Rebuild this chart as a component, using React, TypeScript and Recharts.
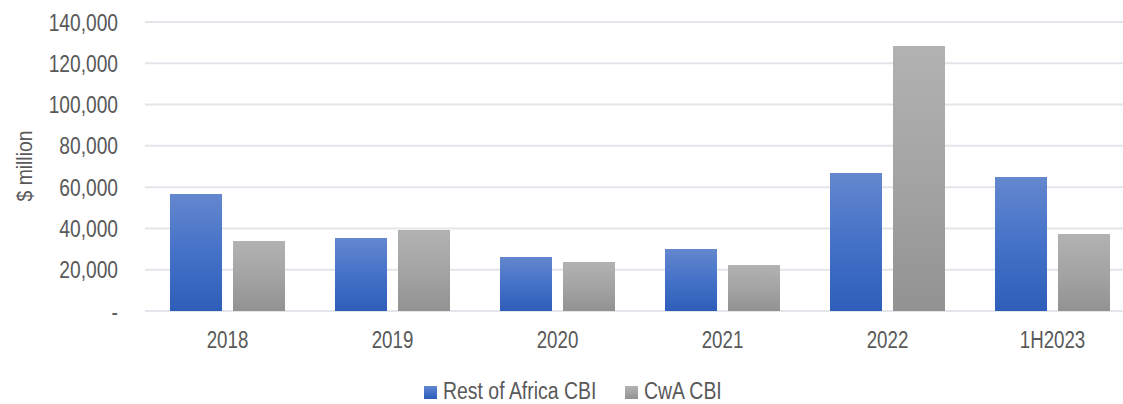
import React from 'react'
import { BarChart, Bar, XAxis, YAxis, CartesianGrid, Legend } from 'recharts'

const categories = ['2018', '2019', '2020', '2021', '2022', '1H2023']
const restOfAfrica = [56700, 35400, 26200, 30000, 66900, 64900]
const cwa = [33900, 39200, 23700, 22300, 128400, 37300]
const yTicks = [0, 20000, 40000, 60000, 80000, 100000, 120000, 140000]
const seriesNames = ['Rest of Africa CBI', 'CwA CBI']

const data = categories.map((name, i) => ({
  name,
  rest: restOfAfrica[i],
  cwa: cwa[i],
}))

const FONT = "'Liberation Sans', Arial, sans-serif"
const TEXT = '#595959'

const fmt = (v: number) => (v === 0 ? '-' : v.toLocaleString('en-US'))

// the source uses a narrow font, so squeeze the glyphs horizontally
function YTick(props: any) {
  const { x, y, payload } = props
  return (
    <g transform={`translate(${x},${y}) scale(0.8,1)`}>
      <text x={0} y={0} dy="0.355em" textAnchor="end" fill={TEXT} fontSize={24} fontFamily={FONT}>
        {fmt(payload.value)}
      </text>
    </g>
  )
}

function XTick(props: any) {
  const { x, y, payload } = props
  return (
    <g transform={`translate(${x},${y}) scale(0.78,1)`}>
      <text x={0} y={0} dy="0.71em" textAnchor="middle" fill={TEXT} fontSize={24} fontFamily={FONT}>
        {payload.value}
      </text>
    </g>
  )
}

function LegendBox() {
  const items = [
    { label: seriesNames[0], fill: 'url(#gradBlue)', x: 424 },
    { label: seriesNames[1], fill: 'url(#gradGrey)', x: 625 },
  ]
  return (
    <svg width={1123} height={30} style={{ display: 'block' }}>
      {items.map((it) => (
        <g key={it.label}>
          <rect x={it.x} y={12} width={13} height={13} fill={it.fill} />
          <g transform={`translate(${it.x + 19},25) scale(0.81,1)`}>
            <text x={0} y={0} fill={TEXT} fontSize={24} fontFamily={FONT}>
              {it.label}
            </text>
          </g>
        </g>
      ))}
    </svg>
  )
}

export default function App() {
  return (
    <div
      style={{
        position: 'fixed',
        left: 0,
        top: 0,
        width: 1123,
        height: 404,
        overflow: 'hidden',
        background: '#fff',
      }}
    >
      <BarChart
        width={1135}
        height={404}
        data={data}
        margin={{ top: 22, right: 0, bottom: 0, left: 0 }}
        barCategoryGap={25}
        barGap={11}
      >
        <defs>
          <linearGradient id="gradBlue" x1="0" y1="0" x2="0" y2="1">
            <stop offset="0%" stopColor="#6487CE" />
            <stop offset="50%" stopColor="#4472C8" />
            <stop offset="100%" stopColor="#2E5EB9" />
          </linearGradient>
          <linearGradient id="gradGrey" x1="0" y1="0" x2="0" y2="1">
            <stop offset="0%" stopColor="#B2B2B2" />
            <stop offset="50%" stopColor="#A4A4A4" />
            <stop offset="100%" stopColor="#929292" />
          </linearGradient>
        </defs>
        <CartesianGrid vertical={false} stroke="#E2E5EA" strokeWidth={2} />
        <XAxis
          dataKey="name"
          axisLine={false}
          tickLine={false}
          tickSize={0}
          tickMargin={20}
          height={63}
          tick={<XTick />}
        />
        <YAxis
          domain={[0, 140000]}
          ticks={yTicks}
          axisLine={false}
          tickLine={false}
          tickSize={0}
          tickMargin={27}
          width={145}
          tick={<YTick />}
          label={{
            content: () => (
              <g transform="translate(32,166) rotate(-90) scale(0.88,1)">
                <text x={0} y={0} textAnchor="middle" fill={TEXT} fontSize={22} fontFamily={FONT}>
                  $ million
                </text>
              </g>
            ),
          }}
        />
        <Legend verticalAlign="bottom" content={() => <LegendBox />} />
        <Bar dataKey="rest" name={seriesNames[0]} fill="url(#gradBlue)" isAnimationActive={false} />
        <Bar dataKey="cwa" name={seriesNames[1]} fill="url(#gradGrey)" isAnimationActive={false} />
      </BarChart>
    </div>
  )
}
